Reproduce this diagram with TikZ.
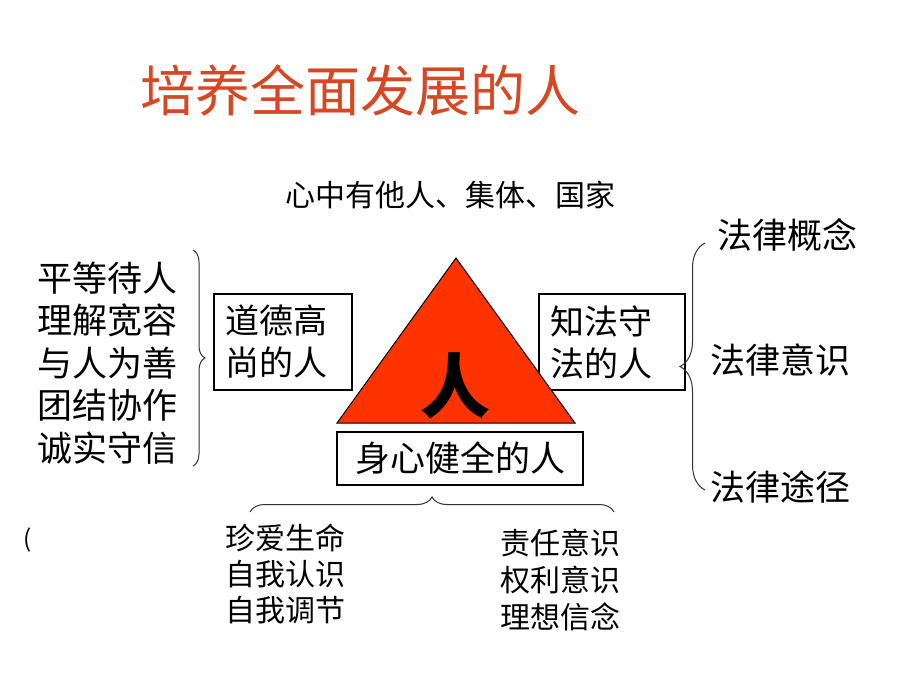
\documentclass[tikz,border=0pt]{standalone}
\usepackage{fontspec}
\setmainfont{Noto Sans CJK SC}
\usetikzlibrary{decorations.pathreplacing}
\definecolor{titlered}{RGB}{214,72,36}
\definecolor{trifill}{RGB}{255,51,0}
\tikzset{
  txt/.style={inner sep=0pt, align=left, text=black},
  f35/.style={font=\fontsize{35}{42.5}\selectfont},
  f34/.style={font=\fontsize{34}{42}\selectfont},
  f30/.style={font=\fontsize{30}{36.5}\selectfont},
  boxnode/.style={draw=black, line width=1.2pt, fill=white, inner xsep=11pt, inner ysep=0pt, align=left, f34},
  bracepath/.style={draw=black!80, line width=1pt, decorate},
}
\begin{document}
\begin{tikzpicture}[x=1pt,y=-1pt]
\useasboundingbox[fill=white] (0,0) rectangle (920,690);

% title
\node[txt, text=titlered, font=\fontsize{55}{60}\selectfont] (title) at (360,90) {培养全面发展的人};
\node[txt, font=\fontsize{30}{36}\selectfont] (top) at (450,195) {心中有他人、集体、国家};

% boxes
\node[boxnode, text width=116pt, minimum height=96pt] (moral) at (283,342) {道德高\\尚的人};
\node[boxnode, text width=124pt, minimum height=96pt] (law) at (612,342) {知法守\\法的人};

% triangle
\coordinate (apex) at (456,258);
\coordinate (bl) at (337,423);
\coordinate (br) at (575,423);
\filldraw[fill=trifill, draw=black, line width=1pt, line join=miter] (apex) -- (bl) -- (br) -- cycle;
\node[txt, font=\fontsize{70}{70}\selectfont\bfseries] (ren) at (455,386) {人};

\node[boxnode, f35, inner xsep=0pt, minimum width=246pt, minimum height=53pt, align=center] (health) at (460,458.5) {身心健全的人};

% left list
\node[txt, f35, anchor=west] (left) at (37,363) {平等待人\\理解宽容\\与人为善\\团结协作\\诚实守信};
\coordinate (lbt) at (193,250);
\coordinate (lbb) at (193,466);
\draw[bracepath, decoration={brace, amplitude=12pt}] (lbt) -- (lbb);

% right list
\node[txt, f35] (r1) at (787,235) {法律概念};
\node[txt, f35] (r2) at (780,360) {法律意识};
\node[txt, f35] (r3) at (780,487) {法律途径};
\coordinate (rbt) at (705,243);
\coordinate (rbb) at (705,490);
\draw[bracepath, decoration={brace, amplitude=25pt}] (rbb) -- (rbt);

% bottom
\coordinate (bbl) at (250,512);
\coordinate (bbr) at (614,512);
\draw[bracepath, decoration={brace, amplitude=15pt}] (bbl) -- (bbr);
\node[txt, font=\fontsize{30}{36}\selectfont, anchor=west] (b1) at (225,574) {珍爱生命\\自我认识\\自我调节};
\node[txt, font=\fontsize{30}{37}\selectfont, anchor=west] (b2) at (500,580) {责任意识\\权利意识\\理想信念};
\node[txt, font=\fontsize{24}{24}\selectfont] (paren) at (28,540) {(};
\end{tikzpicture}
\end{document}
